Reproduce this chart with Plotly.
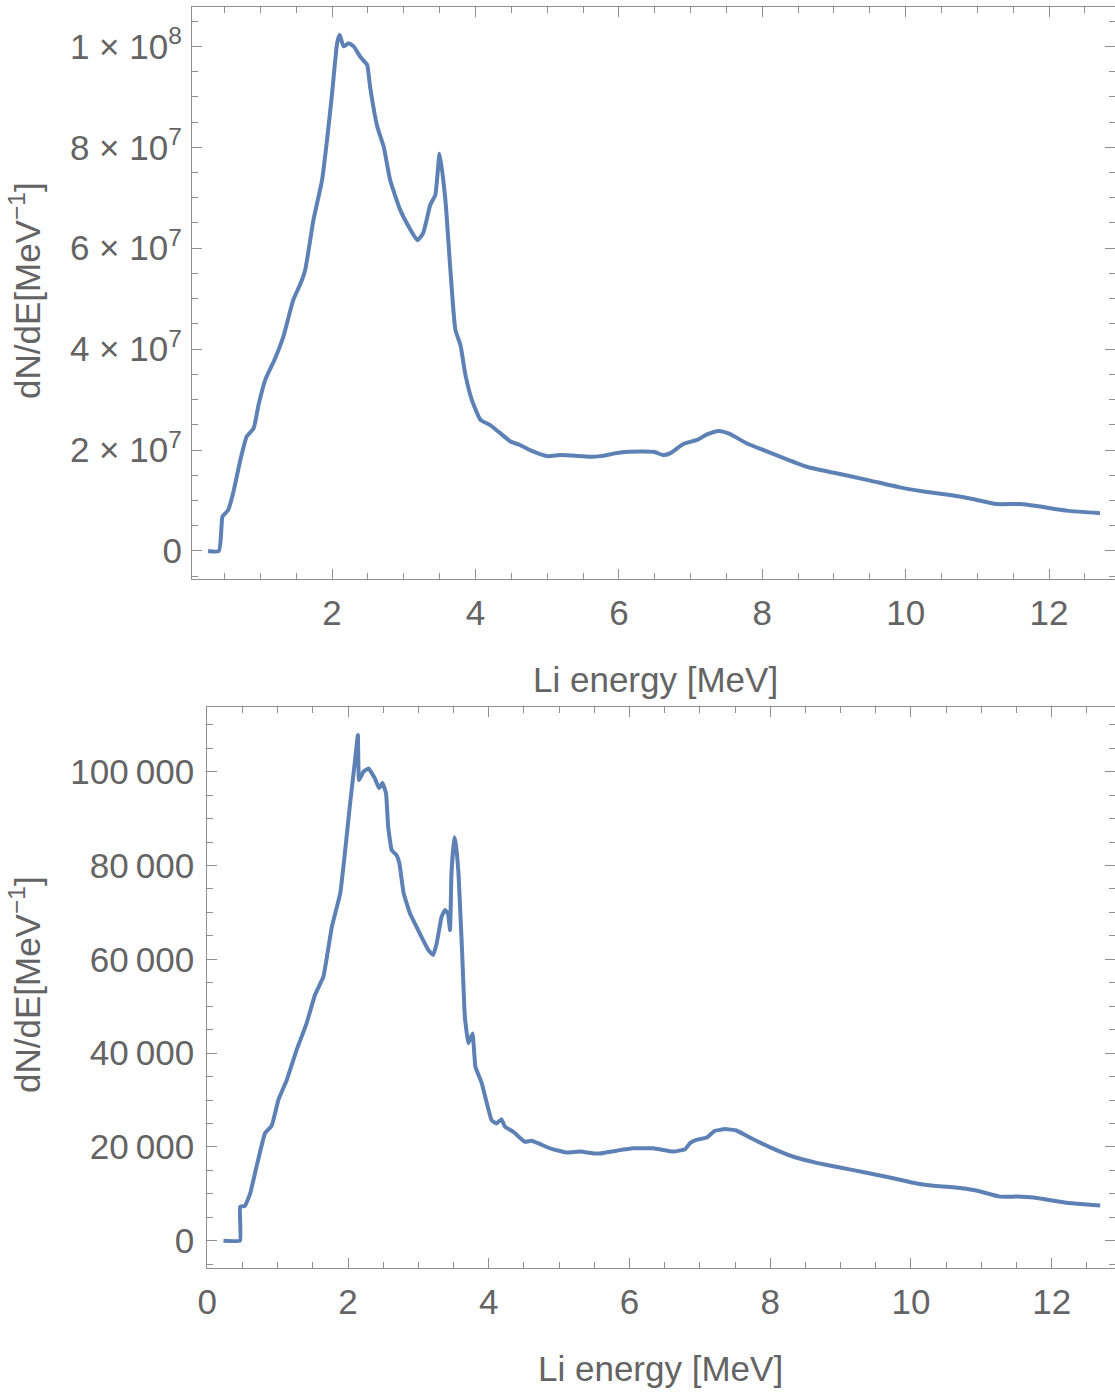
import plotly.graph_objects as go

# ---- data ----
top_x = [0.27, 0.42, 0.47, 0.50, 0.55, 0.62, 0.72, 0.81, 0.905, 0.975, 1.07, 1.2, 1.32, 1.46, 1.56,
         1.625, 1.74, 1.86, 1.93, 2.0, 2.07, 2.105, 2.16, 2.23, 2.30, 2.39, 2.45, 2.49, 2.53, 2.63,
         2.72, 2.81, 2.95, 3.08, 3.19, 3.27, 3.37, 3.44, 3.50, 3.58, 3.65, 3.72, 3.79, 3.86, 3.95,
         4.07, 4.2, 4.35, 4.49, 4.62, 4.76, 5.0, 5.18, 5.35, 5.6, 5.74, 6.02, 6.3, 6.5, 6.62, 6.72,
         6.9, 7.09, 7.23, 7.39, 7.53, 7.79, 8.02, 8.30, 8.62, 9.0, 9.46, 9.92, 10.25, 10.62, 10.9,
         11.27, 11.6, 11.83, 12.25, 12.71]
top_y = [0, 0, 6.8e6, 7.3e6, 8.1e6, 1.15e7, 1.8e7, 2.27e7, 2.43e7, 2.9e7, 3.4e7, 3.8e7, 4.25e7, 4.98e7, 5.3e7,
         5.57e7, 6.56e7, 7.35e7, 8.15e7, 9.07e7, 1.006e8, 1.023e8, 1.0e8, 1.006e8, 1.0e8, 9.8e7, 9.7e7, 9.63e7, 9.2e7, 8.41e7,
         8.01e7, 7.35e7, 6.76e7, 6.4e7, 6.16e7, 6.3e7, 6.86e7, 7.06e7, 7.87e7, 6.96e7, 5.57e7, 4.38e7, 4.08e7, 3.49e7, 2.99e7,
         2.6e7, 2.5e7, 2.33e7, 2.17e7, 2.1e7, 2.0e7, 1.88e7, 1.9e7, 1.89e7, 1.87e7, 1.88e7, 1.95e7, 1.97e7, 1.96e7, 1.9e7, 1.94e7,
         2.12e7, 2.2e7, 2.31e7, 2.38e7, 2.33e7, 2.13e7, 2.0e7, 1.84e7, 1.67e7, 1.55e7, 1.41e7, 1.26e7, 1.18e7, 1.11e7, 1.04e7,
         9.3e6, 9.3e6, 8.9e6, 8.0e6, 7.5e6]

bot_x = [0.23, 0.465, 0.466, 0.535, 0.61, 0.70, 0.82, 0.915, 1.01, 1.13, 1.27, 1.41, 1.53, 1.65, 1.77,
         1.89, 1.96, 2.03, 2.10, 2.14, 2.156, 2.22, 2.29, 2.38, 2.44, 2.49, 2.54, 2.57, 2.62, 2.69,
         2.73, 2.79, 2.88, 3.02, 3.14, 3.21, 3.26, 3.33, 3.38, 3.42, 3.45, 3.47, 3.51, 3.53, 3.57,
         3.62, 3.66, 3.71, 3.77, 3.81, 3.9, 4.04, 4.11, 4.18, 4.23, 4.35, 4.51, 4.61, 4.73, 4.87,
         5.1, 5.3, 5.5, 5.58, 5.82, 6.05, 6.34, 6.62, 6.79, 6.86, 6.95, 7.10, 7.21, 7.36, 7.52,
         7.71, 8.0, 8.33, 8.66, 8.99, 9.37, 9.75, 10.08, 10.32, 10.6, 10.93, 11.26, 11.5, 11.74, 12.21, 12.69]
bot_y = [0, 0, 7250, 7400, 10100, 15800, 22900, 24500, 30000, 34300, 40700, 46300, 52400, 56300, 66900,
         74100, 83300, 93300, 102500, 107800, 98200, 100000, 100700, 98600, 96500, 97600, 95400, 88300, 83300, 82200,
         80500, 74100, 69800, 65500, 62000, 60900, 63400, 69100, 70500, 69800, 66200, 78300, 86000, 84700, 78300,
         62000, 47800, 42100, 44200, 37100, 33600, 25700, 25000, 25900, 24300, 23200, 21100, 21300, 20600, 19700,
         18800, 19000, 18600, 18600, 19200, 19700, 19700, 19000, 19500, 20800, 21500, 22000, 23400, 23800, 23500,
         22000, 19900, 17900, 16600, 15600, 14500, 13300, 12200, 11700, 11400, 10700, 9400, 9400, 9200, 8100, 7500]

x_ticks = [0, 2, 4, 6, 8, 10, 12]
top_yticks = [0, 2e7, 4e7, 6e7, 8e7, 1e8]
top_ylabels = ["0", "2 × 10<sup>7</sup>", "4 × 10<sup>7</sup>", "6 × 10<sup>7</sup>",
               "8 × 10<sup>7</sup>", "1 × 10<sup>8</sup>"]
bot_yticks = [0, 20000, 40000, 60000, 80000, 100000]
bot_ylabels = ["0", "20\u2009000", "40\u2009000", "60\u2009000", "80\u2009000", "100\u2009000"]
x_title = "Li energy [MeV]"
y_title = "dN/dE[MeV<sup>−1</sup>]"

W, H = 1115, 1393
LINE = "#5E81B5"
AX = "#8f8f8f"
TXT = "#646464"
FONT = "Liberation Sans"
FS = 35

fig = go.Figure()
fig.add_trace(go.Scatter(x=top_x, y=top_y, mode="lines",
                         line=dict(color=LINE, width=4, shape="spline", smoothing=0.5),
                         xaxis="x", yaxis="y", showlegend=False))
fig.add_trace(go.Scatter(x=bot_x, y=bot_y, mode="lines",
                         line=dict(color=LINE, width=4, shape="spline", smoothing=0.3),
                         xaxis="x2", yaxis="y2", showlegend=False))

def xa(domain, anchor, rng):
    return dict(domain=domain, anchor=anchor, range=rng, tickvals=x_ticks, automargin=False,
                ticks="inside", ticklen=10, tickwidth=1.2, tickcolor=AX,
                showline=True, linecolor=AX, linewidth=1.3, mirror="allticks",
                showgrid=False, zeroline=False, ticklabelstandoff=3,
                tickfont=dict(family=FONT, size=FS, color=TXT),
                minor=dict(dtick=0.5, tick0=0, ticks="inside", ticklen=6, tickcolor=AX, tickwidth=1.2, showgrid=False))

def ya(domain, anchor, rng, vals, labels, mdt, standoff):
    return dict(domain=domain, anchor=anchor, range=rng, tickvals=vals, ticktext=labels, automargin=False,
                ticks="inside", ticklen=10, tickwidth=1.2, tickcolor=AX,
                showline=True, linecolor=AX, linewidth=1.3, mirror="allticks",
                showgrid=False, zeroline=False, ticklabelstandoff=standoff,
                tickfont=dict(family=FONT, size=FS, color=TXT),
                minor=dict(dtick=mdt, tick0=0, ticks="inside", ticklen=6, tickcolor=AX, tickwidth=1.2, showgrid=False))

fig.update_layout(
    width=W, height=H, margin=dict(l=0, r=0, t=0, b=0, autoexpand=False),
    paper_bgcolor="white", plot_bgcolor="white",
    xaxis=xa([192 / W, 1.0], "y", [0.046, 12.92]),
    yaxis=ya([1 - 579 / H, 1 - 7 / H], "x", [-5.55e6, 1.078e8], top_yticks, top_ylabels, 5e6, 2),
    xaxis2=xa([207.3 / W, 1.0], "y2", [0, 12.9]),
    yaxis2=ya([1 - 1268.3 / H, 1 - 706.7 / H], "x2", [-5885, 113860], bot_yticks, bot_ylabels, 5000, 5),
)

ann = [
    dict(text=x_title, x=655 / W, y=1 - 680 / H),
    dict(text=x_title, x=660 / W, y=1 - 1368 / H),
    dict(text=y_title, x=25 / W, y=1 - 291 / H, textangle=-90),
    dict(text=y_title, x=25 / W, y=1 - 985 / H, textangle=-90),
]
for a in ann:
    fig.add_annotation(xref="paper", yref="paper", showarrow=False, xanchor="center", yanchor="middle",
                       font=dict(family=FONT, size=FS, color=TXT), **a)

fig.write_html("out.html", config={"displayModeBar": False},
               post_script="document.body.style.margin='0';document.body.style.overflow='hidden';")
